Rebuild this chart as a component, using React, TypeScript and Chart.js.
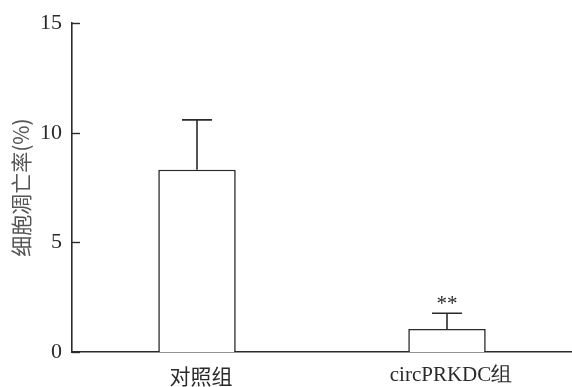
import React, { useEffect, useRef } from "react";
import { Chart, registerables } from "chart.js";

Chart.register(...registerables);

const categories = ["对照组", "circPRKDC组"];
const meanValues = [8.32, 1.05];
const errorValues = [2.27, 0.72];
const significance = ["", "**"];
const yTicks = [0, 5, 10, 15];

const INK = "#2a2a2a";
const SERIF = "'Liberation Serif', 'Times New Roman', serif";
const CJK = "'Noto Sans CJK SC', sans-serif";

const errorBarPlugin = {
  id: "errorBars",
  afterDatasetsDraw(chart: any) {
    const { ctx } = chart;
    const yScale = chart.scales.y;
    const meta = chart.getDatasetMeta(0);
    ctx.save();
    ctx.strokeStyle = INK;
    ctx.lineWidth = 1.6;
    meta.data.forEach((bar: any, i: number) => {
      const x = bar.x;
      const yTop = yScale.getPixelForValue(meanValues[i]);
      const yErr = yScale.getPixelForValue(meanValues[i] + errorValues[i]);
      ctx.beginPath();
      ctx.moveTo(x, yTop);
      ctx.lineTo(x, yErr);
      ctx.moveTo(x - 15, yErr);
      ctx.lineTo(x + 15, yErr);
      ctx.stroke();
      if (significance[i]) {
        ctx.fillStyle = INK;
        ctx.font = `21px ${SERIF}`;
        ctx.textAlign = "center";
        ctx.textBaseline = "alphabetic";
        ctx.fillText(significance[i], x, yErr - 3);
      }
    });
    ctx.restore();
  },
};

const innerTickPlugin = {
  id: "innerTicks",
  afterDraw(chart: any) {
    const { ctx } = chart;
    const yScale = chart.scales.y;
    const left = chart.chartArea.left;
    ctx.save();
    ctx.strokeStyle = INK;
    ctx.lineWidth = 1.4;
    yScale.ticks.forEach((t: any) => {
      const y = Math.round(yScale.getPixelForValue(t.value)) + 0.5;
      ctx.beginPath();
      ctx.moveTo(left, y);
      ctx.lineTo(left + 8, y);
      ctx.stroke();
    });
    ctx.restore();
  },
};

export default function App() {
  const canvasRef = useRef<HTMLCanvasElement | null>(null);

  useEffect(() => {
    document.body.style.margin = "0";
    const canvas = canvasRef.current;
    if (!canvas) return;
    const chart = new Chart(canvas, {
      type: "bar",
      data: {
        labels: categories,
        datasets: [
          {
            data: meanValues,
            backgroundColor: "#ffffff",
            borderColor: INK,
            borderWidth: 1.6,
            barPercentage: 0.62,
            categoryPercentage: 0.5,
          },
        ],
      },
      options: {
        animation: false,
        responsive: false,
        devicePixelRatio: 1,
        layout: { padding: { top: 22, right: 0, left: 0, bottom: 0 } },
        plugins: {
          legend: { display: false },
          tooltip: { enabled: false },
        },
        scales: {
          x: {
            grid: { display: false, drawTicks: false },
            border: { display: true, color: INK, width: 1.6 },
            ticks: {
              color: INK,
              padding: 11,
              labelOffset: 4,
              font: (ctx: any) => ({
                family: ctx.index === 0 ? CJK : SERIF,
                size: 21,
              }),
            },
            afterFit: (scale: any) => {
              scale.height = 35;
            },
          },
          y: {
            min: 0,
            max: 15,
            afterBuildTicks: (scale: any) => {
              scale.ticks = yTicks.map((v) => ({ value: v }));
            },
            grid: { display: false, drawTicks: false },
            border: { display: true, color: INK, width: 1.6 },
            ticks: {
              color: INK,
              padding: 10,
              font: { family: SERIF, size: 22 },
            },
            title: {
              display: true,
              text: "细胞凋亡率(%)",
              color: "#555555",
              font: { family: CJK, size: 21 },
              padding: { top: 8, bottom: 0 },
            },
            afterFit: (scale: any) => {
              scale.width = 72;
            },
          },
        },
      },
      plugins: [errorBarPlugin, innerTickPlugin],
    });
    return () => chart.destroy();
  }, []);

  return (
    <div style={{ width: 572, height: 387 }}>
      <canvas ref={canvasRef} width={572} height={387} />
    </div>
  );
}
